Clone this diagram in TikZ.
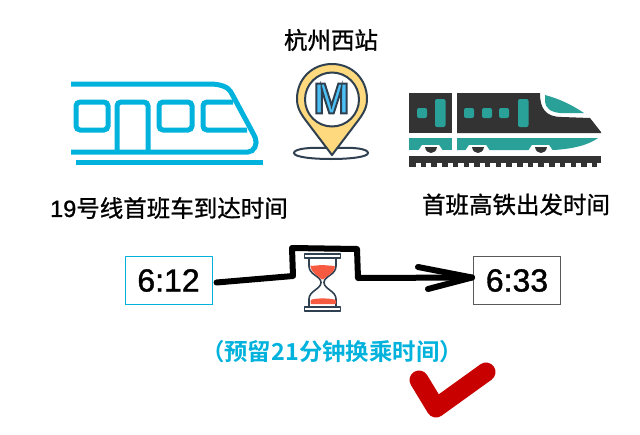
\documentclass[tikz,border=0pt]{standalone}
\usepackage{fontspec}
\setmainfont{Liberation Sans}
\newfontfamily\cjk[FakeBold=1]{Noto Sans CJK SC}
\newfontfamily\capdigits[FakeBold=1]{Liberation Sans}
\newfontfamily\cjkbold{Noto Sans CJK SC Bold}
\newfontfamily\markfont[FakeBold=4.5]{Liberation Sans Bold}
\newfontfamily\timefont[FakeBold=1.2]{Liberation Sans}
\usetikzlibrary{calc}
\definecolor{metroblue}{HTML}{00B2DC}
\definecolor{trainteal}{HTML}{2AA198}
\definecolor{traindark}{HTML}{333333}
\definecolor{pinyellow}{HTML}{FFD97D}
\definecolor{pinline}{HTML}{2F4050}
\definecolor{glassred}{HTML}{F65A41}
\definecolor{checkred}{HTML}{C80000}

\begin{document}
\begin{tikzpicture}[
  x=1pt, y=-1pt,
  metro line/.style={line width=5pt, color=metroblue},
  pin line/.style={line width=2pt, color=pinline},
  glass line/.style={line width=1.6pt, color=pinline, line join=round},
  sketch line/.style={line width=6pt, line cap=round, line join=round},
  caption/.style={font=\fontsize{23.5}{28}\selectfont\cjk, text=black, inner sep=0pt},
  time box/.style={draw, line width=1pt, fill=white, minimum width=87pt, minimum height=48pt, inner sep=0pt, font=\fontsize{32}{36}\selectfont\timefont}
  ]
  \useasboundingbox (0,0) rectangle (640,434);

  % metro
  \draw[metro line, rounded corners=3pt] (71,84) -- (207,84) .. controls (220,84) and (228,87) .. (232,94) -- (254,135) .. controls (258,144) and (254,152) .. (245,152) -- (71,152);
  \draw[metro line] (76,162) -- (263,162);
  \draw[metro line, rounded corners=4pt] (76,102) rectangle (108,130);
  \draw[metro line, rounded corners=4pt] (117,152) -- (117,102) -- (148,102) -- (148,152);
  \draw[metro line, rounded corners=4pt] (159,102) rectangle (192,130);
  \draw[metro line, rounded corners=4pt] (233,102) -- (203,102) -- (203,130) -- (247,130);

  % pin
  \draw[pin line] (328,148) .. controls (308,147) and (294,149) .. (294,153) .. controls (294,157) and (312,159) .. (331,159) .. controls (350,159) and (368,157) .. (368,153) .. controls (368,149) and (355,147) .. (336,148);
  \draw[pin line, fill=pinyellow, line join=round] (332,155) -- (307,122) .. controls (300,113) and (297,107) .. (297,99) .. controls (297,79) and (312,64) .. (332,64) .. controls (352,64) and (367,79) .. (367,99) .. controls (367,107) and (364,113) .. (357,122) -- cycle;
  \draw[pin line, fill=white] (332,99.5) circle (27);
  \node (metro mark) [inner sep=0pt, font=\fontsize{43}{46}\selectfont\markfont] at (331.5,98.5) {\special{pdf:bcolor [0.30 0.75 0.96] [0.18 0.25 0.31]}M\special{pdf:ecolor}};

  % high speed train
  \fill[traindark] (409,93) rectangle (452,133);
  \fill[traindark] (457,93) -- (540,93) .. controls (540,108) and (545,117) .. (562,117) -- (590,118) -- (601,132) -- (601,133) -- (457,133) -- cycle;
  \fill[trainteal] (545,95) .. controls (560,99) and (572,105) .. (584,113) -- (560,113) .. controls (550,112) and (546,108) .. (545,102) -- cycle;
  \foreach \x in {417,464,482,499}
    \fill[trainteal, rounded corners=2pt] (\x,108) rectangle ++(10,10);
  \foreach \x in {435,518}
    \fill[trainteal, rounded corners=2pt] (\x,99) rectangle ++(10.5,28);
  \fill[trainteal] (409,138) rectangle (452,150);
  \fill[trainteal] (457,138) -- (598,138) .. controls (590,144) and (575,149) .. (553,150) -- (457,150) -- cycle;
  \foreach \x in {431,478,541} {
    \fill[white] (\x-9,145) -- (\x+8,145) -- (\x+12,151) -- (\x-13,151) -- cycle;
    \fill[traindark] (\x-6,147) .. controls (\x-5,155) and (\x+5,155) .. (\x+6,147) -- cycle;
  }
  \fill[traindark] (409,156) rectangle (601,167);
  \foreach \i in {0,...,17}
    \fill[white] (415.5+\i*10.7,163) rectangle ++(5.2,5);

  % captions
  \node (station) [caption] at (331,40) {杭州西站};
  \node (metro caption) [caption] at (169,208) {{\capdigits 19}号线首班车到达时间};
  \node (train caption) [caption] at (516,204.5) {首班高铁出发时间};

  % times
  \node (metro time) [time box, draw=metroblue] at (168.5,280.5) {6:12};
  \node (train time) [time box, draw=black!65] at (517,280.5) {6:33};

  \coordinate (bend a) at (293,276);
  \coordinate (bend b) at (292,248);
  \coordinate (bend c) at (357,249);
  \coordinate (bend d) at (358,278);
  \coordinate (head a) at (418,267);
  \coordinate (head b) at (428,289);
  \coordinate (tip) at ($(train time.west)+(-1,-3)$);
  \draw[sketch line] (metro time.east) ++(4,2) -- (bend a) -- (bend b) -- (bend c) -- (bend d) -- (tip);
  \draw[sketch line] (head a) -- (tip) -- (head b);

  % hourglass
  \draw[glass line] (309,258) -- (309,266) .. controls (309,275) and (321,276) .. (321,282.5) .. controls (321,289) and (309,291) .. (309,299) -- (309,307);
  \draw[glass line] (336,258) -- (336,266) .. controls (336,275) and (324,276) .. (324,282.5) .. controls (324,289) and (336,291) .. (336,299) -- (336,307);
  \draw[glass line, fill=white] (304.5,254) rectangle (340.5,258);
  \draw[glass line, fill=white] (304.5,307) rectangle (340.5,311);
  \fill[glassred, rounded corners=1pt] (310.5,266) -- (322,265) -- (335,266) .. controls (335,272) and (327,276) .. (322.5,280) .. controls (318,276) and (311,272) .. (310.5,266) -- cycle;
  \fill[glassred, rounded corners=1pt] (310.5,304) -- (310.5,300) .. controls (316,298) and (329,298) .. (336,300) -- (336,304) -- cycle;

  \node (spare time) [inner sep=0pt, text=metroblue, font=\fontsize{23.4}{28}\selectfont\cjkbold] at (332,352) {（预留21分钟换乘时间）};

  % tick
  \draw[line width=19pt, color=checkred, line cap=round, line join=round] (419,380) -- (436,408) -- (486,372);
\end{tikzpicture}
\end{document}
